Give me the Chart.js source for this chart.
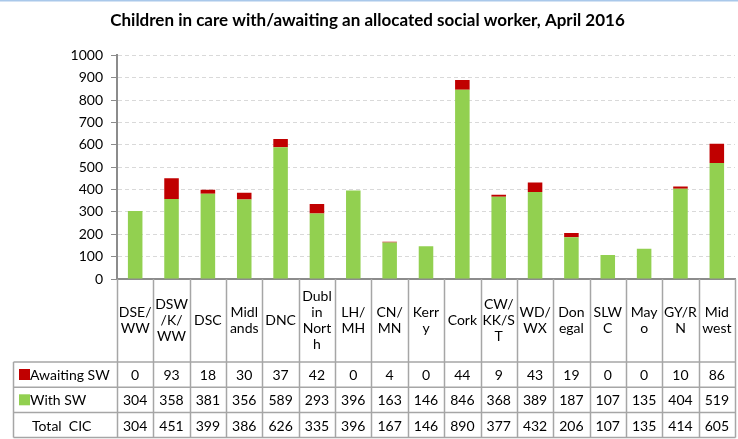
<!DOCTYPE html>
<html lang="en">
<head>
<meta charset="utf-8">
<title>Children in care with/awaiting an allocated social worker</title>
<script src="https://cdn.jsdelivr.net/npm/chart.js"></script>
<style>
	html, body{ margin: 0; padding: 0; background: #fff; }
	.canvas_div{ width: 738px; height: 439px; }
</style>
</head>
<body>
<div class="canvas_div">
    <canvas id="myChart" width="738" height="439"></canvas>
</div>
<script>

// 지역 라벨 (표 머리글에서 줄바꿈된 그대로)
const areas = [
  ['DSE/', 'WW'], ['DSW', '/K/', 'WW'], ['DSC'], ['Midl', 'ands'], ['DNC'],
  ['Dubl', 'in', 'Nort', 'h'], ['LH/', 'MH'], ['CN/', 'MN'], ['Kerr', 'y'], ['Cork'],
  ['CW/', 'KK/S', 'T'], ['WD/', 'WX'], ['Don', 'egal'], ['SLW', 'C'], ['May', 'o'],
  ['GY/R', 'N'], ['Mid', 'west']
];

const awaitingSW = [0, 93, 18, 30, 37, 42, 0, 4, 0, 44, 9, 43, 19, 0, 0, 10, 86];
const withSW     = [304, 358, 381, 356, 589, 293, 396, 163, 146, 846, 368, 389, 187, 107, 135, 404, 519];
const totalCIC   = [304, 451, 399, 386, 626, 335, 396, 167, 146, 890, 377, 432, 206, 107, 135, 414, 605];

const yTicks = [0, 100, 200, 300, 400, 500, 600, 700, 800, 900, 1000];

const RED = '#C00000';
const GREEN = '#92D050';
const LINE = '#a6a6a6';
const FONT = 'Lato, "Open Sans", sans-serif';

// 표 그리기
const tablePlugin = {
  id: 'dataTable',
  afterDraw(chart){
    const ctx = chart.ctx;
    const x = chart.scales.x;
    const area = chart.chartArea;
    const n = areas.length;
    const step = (x.right - x.left) / n;
    const top = area.bottom;
    const headBottom = top + 83;
    const rowH = 25.3;
    const tableBottom = 437.5;
    const leftCol = 13.5;

    ctx.save();
    // 위쪽 파란 테두리
    ctx.strokeStyle = '#a9c8ea';
    ctx.lineWidth = 1.5;
    ctx.beginPath(); ctx.moveTo(0, 0.75); ctx.lineTo(738, 0.75); ctx.stroke();

    ctx.strokeStyle = LINE;
    ctx.lineWidth = 1.5;
    ctx.beginPath();
    for(let i = 0; i <= n; i++){
      const bx = Math.round(x.left + step * i) + 0.5;
      ctx.moveTo(bx, top); ctx.lineTo(bx, tableBottom);
    }
    ctx.moveTo(leftCol, headBottom); ctx.lineTo(leftCol, tableBottom);
    for(let r = 0; r <= 3; r++){
      const y = r === 3 ? tableBottom : headBottom + rowH * r;
      ctx.moveTo(leftCol, y); ctx.lineTo(x.right + 0.5, y);
    }
    ctx.stroke();

    ctx.fillStyle = '#000';
    ctx.font = '14px ' + FONT;
    ctx.textAlign = 'center';
    ctx.textBaseline = 'middle';
    const lineH = 16;
    const headMid = top + 41;
    for(let i = 0; i < n; i++){
      const cx = x.getPixelForValue(i);
      const lines = areas[i];
      const y0 = headMid - (lines.length - 1) * lineH / 2;
      lines.forEach(function(t, k){ ctx.fillText(t, cx, y0 + k * lineH); });
      ctx.fillText(String(awaitingSW[i]), cx, headBottom + rowH * 0.5 + 1);
      ctx.fillText(String(withSW[i]), cx, headBottom + rowH * 1.5 + 1);
      ctx.fillText(String(totalCIC[i]), cx, headBottom + rowH * 2.5 + 1);
    }

    // 범례 칸
    ctx.textAlign = 'left';
    ctx.fillStyle = RED;
    ctx.fillRect(19, headBottom + 7, 11, 11);
    ctx.fillStyle = GREEN;
    ctx.fillRect(19, headBottom + rowH + 7, 11, 11);
    ctx.fillStyle = '#000';
    ctx.fillText('Awaiting SW', 30, headBottom + rowH * 0.5 + 1);
    ctx.fillText('With SW', 30, headBottom + rowH * 1.5 + 1);
    ctx.fillText('Total  CIC', 32, headBottom + rowH * 2.5 + 1);
    ctx.restore();
  }
};

const chart_data = {
  labels: areas,
  datasets: [{
    label: 'With SW',
    data: withSW,
    backgroundColor: GREEN,
    borderWidth: 0
  }, {
    label: 'Awaiting SW',
    data: awaitingSW,
    backgroundColor: RED,
    borderWidth: 0
  }]
};

const config = {
  type: 'bar',
  data: chart_data,
  options: {
    responsive: false,
    animation: false,
    layout: { padding: { left: 0, right: 3, top: 0, bottom: 0 } },
    datasets: { bar: { categoryPercentage: 1, barPercentage: 0.4 } },
    plugins: {
      legend: { display: false },
      tooltip: { enabled: false },
      title: {
        display: true,
        text: 'Children in care with/awaiting an allocated social worker, April 2016',
        color: '#000',
        font: { family: FONT, size: 17, weight: 'bold' },
        padding: { top: 10, bottom: 25 }
      }
    },
    scales: {
      x: {
        stacked: true,
        ticks: { display: false },
        grid: { display: false },
        border: { display: true, color: '#8c8c8c', width: 2 },
        afterFit(scale){ scale.height = 160; }
      },
      y: {
        stacked: true,
        min: 0,
        max: 1000,
        afterBuildTicks(scale){ scale.ticks = yTicks.map(function(v){ return { value: v }; }); },
        ticks: {
          color: '#000', padding: 8, font: { family: FONT, size: 14 },
          callback: function(v){ return String(v); }
        },
        grid: { color: '#d9d9d9', tickColor: '#8c8c8c', tickLength: 6, tickBorderDash: [], lineWidth: 1 },
        border: { display: true, color: '#8c8c8c', width: 2, dash: [4, 3] },
        afterFit(scale){ scale.width = 117; }
      }
    }
  },
  plugins: [tablePlugin]
};

var myChart = new Chart(document.getElementById('myChart'), config);
</script>
</body>
</html>
